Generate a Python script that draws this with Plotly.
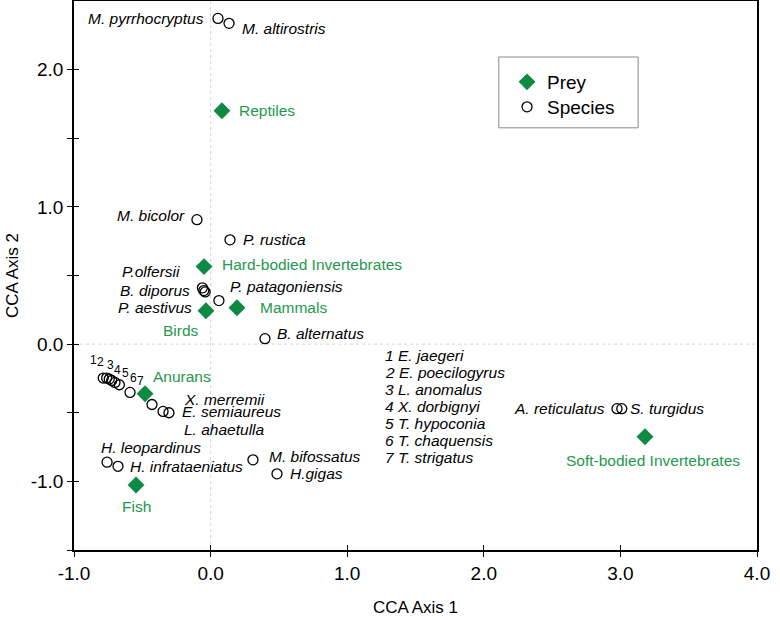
import plotly.graph_objects as go

# ---------------- data ----------------
prey_names = ["Reptiles", "Hard-bodied Invertebrates", "Mammals", "Birds",
              "Anurans", "Fish", "Soft-bodied Invertebrates"]
prey_x = [0.083, -0.048, 0.193, -0.034, -0.48, -0.546, 3.18]
prey_y = [1.70, 0.565, 0.265, 0.243, -0.362, -1.026, -0.675]

species_names = ["M. pyrrhocryptus", "M. altirostris", "M. bicolor", "P. rustica",
                 "P.olfersii", "B. diporus", "P. aestivus", "P. patagoniensis",
                 "B. alternatus", "1", "2", "3", "4", "5", "6", "7",
                 "X. merremii", "E. semiaureus", "L. ahaetulla",
                 "H. leopardinus", "H. infrataeniatus", "M. bifossatus", "H.gigas",
                 "A. reticulatus", "S. turgidus"]
species_x = [0.054, 0.135, -0.10, 0.142,
             -0.06, -0.05, -0.04, 0.061,
             0.398, -0.786, -0.761, -0.742, -0.724, -0.700, -0.668, -0.590,
             -0.429, -0.348, -0.305,
             -0.758, -0.678, 0.31, 0.486,
             2.975, 3.01]
species_y = [2.373, 2.337, 0.907, 0.76,
             0.41, 0.39, 0.38, 0.317,
             0.04, -0.247, -0.247, -0.255, -0.265, -0.279, -0.296, -0.352,
             -0.44, -0.49, -0.50,
             -0.86, -0.89, -0.843, -0.945,
             -0.47, -0.47]

numbered_key = ["1 E. jaegeri", "2 E. poecilogyrus", "3 L. anomalus", "4 X. dorbignyi",
                "5 T. hypoconia", "6 T. chaquensis", "7 T. strigatus"]

x_ticks = [-1, 0, 1, 2, 3, 4]
x_ticktext = ["-1.0", "0.0", "1.0", "2.0", "3.0", "4.0"]
y_ticks = [-1.5, -1, -0.5, 0, 0.5, 1, 1.5, 2]
y_ticktext = ["", "-1.0", "", "0.0", "", "1.0", "", "2.0"]

# ---------------- label placement (pixel offsets, styles) ----------------
GREEN_MARK = "#0f8a45"
GREEN_TEXT = "#24994d"
FONT = "Liberation Sans, Arial, sans-serif"
LBL = 15.5

# (xanchor, xshift, yshift)
prey_label_pos = [("left", 15, 0), ("left", 16, 2), ("left", 21, 0), ("center", -25, -20),
                  ("left", 6, 17), ("center", 0, -22), ("center", 8, -24)]
species_label_pos = [("right", -12, 0), ("left", 11, -5), ("right", -10, 4), ("left", 11, 0),
                     ("right", -20, 16), ("right", -12, 0), ("right", -11, -16), ("left", 9, 14),
                     ("left", 10, 5),
                     ("center", -10, 18), ("center", -6, 16), ("center", 1, 14), ("center", 6, 11),
                     ("center", 11, 9), ("center", 14, 7), ("center", 10, 11),
                     ("left", 30, 5), ("left", 17, 0), ("left", 13, -17),
                     ("left", -8, 15), ("left", 10, 0), ("left", 14, 3), ("left", 11, 0),
                     ("right", -10, 0), ("left", 6, 0)]

fig = go.Figure()

fig.add_trace(go.Scatter(
    x=prey_x, y=prey_y, mode="markers", name="Prey", legend="legend",
    marker=dict(symbol="diamond", size=13, color=GREEN_MARK, line=dict(width=0)),
))
fig.add_trace(go.Scatter(
    x=species_x, y=species_y, mode="markers", name="Species", legend="legend2",
    marker=dict(symbol="circle-open", size=10, color="black", line=dict(width=1.3, color="black")),
))
# helper trace for the overlay axes (inside tick marks)
fig.add_trace(go.Scatter(x=[None], y=[None], xaxis="x2", yaxis="y2",
                         showlegend=False, hoverinfo="skip"))

annotations = []
for name, x, y, (xa, dx, dy) in zip(prey_names, prey_x, prey_y, prey_label_pos):
    annotations.append(dict(x=x, y=y, text=name, showarrow=False, xanchor=xa, yanchor="middle",
                            xshift=dx, yshift=dy,
                            font=dict(family=FONT, size=LBL, color=GREEN_TEXT)))
for name, x, y, (xa, dx, dy) in zip(species_names, species_x, species_y, species_label_pos):
    is_num = name.isdigit()
    text = name if is_num else "<i>" + name + "</i>"
    annotations.append(dict(x=x, y=y, text=text, showarrow=False, xanchor=xa, yanchor="middle",
                            xshift=dx, yshift=dy,
                            font=dict(family=FONT, size=12 if is_num else LBL, color="black")))
for i, line in enumerate(numbered_key):
    annotations.append(dict(x=1.262, y=-0.085, text="<i>" + line + "</i>", showarrow=False,
                            xanchor="left", yanchor="middle", yshift=-17 * i,
                            font=dict(family=FONT, size=LBL, color="black")))

legend_style = dict(xanchor="left", yanchor="middle", borderwidth=0, bgcolor="rgba(0,0,0,0)",
                    font=dict(family=FONT, size=19, color="black"), itemwidth=30)

fig.update_layout(
    width=780, height=620,
    margin=dict(l=74, r=23, t=1, b=70, autoexpand=False),
    paper_bgcolor="white", plot_bgcolor="white",
    font=dict(family=FONT, color="black"),
    showlegend=True,
    legend=dict(x=0.634, y=(549 - 81) / 549, **legend_style),
    legend2=dict(x=0.634, y=(549 - 106) / 549, **legend_style),
    annotations=annotations,
    shapes=[
        dict(type="line", xref="x", yref="paper", x0=0, x1=0, y0=0, y1=1,
             line=dict(color="#d4d4d4", width=1, dash="dot"), layer="below"),
        dict(type="line", xref="paper", yref="y", x0=0, x1=1, y0=0, y1=0,
             line=dict(color="#d4d4d4", width=1, dash="dot"), layer="below"),
        # legend frame
        dict(type="rect", xref="paper", yref="paper", x0=0.622, x1=0.826, y0=0.769, y1=0.898,
             line=dict(color="#8a8a8a", width=1), fillcolor="rgba(0,0,0,0)", layer="below"),
    ],
    xaxis=dict(range=[-1, 4], tickvals=x_ticks, ticktext=x_ticktext, automargin=False,
               ticks="outside", ticklen=5, tickwidth=1.2, tickcolor="black",
               showline=True, linecolor="black", linewidth=1.5, mirror=True,
               showgrid=False, zeroline=False,
               tickfont=dict(family=FONT, size=19),
               title=dict(text="CCA Axis 1", font=dict(family=FONT, size=17), standoff=19)),
    yaxis=dict(range=[-1.5, 2.5], tickvals=y_ticks, ticktext=y_ticktext, automargin=False,
               ticks="outside", ticklen=5, tickwidth=1.2, tickcolor="black",
               showline=True, linecolor="black", linewidth=1.5, mirror=True,
               showgrid=False, zeroline=False,
               tickfont=dict(family=FONT, size=19),
               title=dict(text="CCA Axis 2", font=dict(family=FONT, size=17), standoff=8)),
    xaxis2=dict(overlaying="x", anchor="y", matches="x", range=[-1, 4], tickvals=x_ticks,
                ticks="inside", ticklen=5, tickwidth=1.2, tickcolor="black", automargin=False,
                showticklabels=False, showline=False, showgrid=False, zeroline=False),
    yaxis2=dict(overlaying="y", anchor="x", matches="y", range=[-1.5, 2.5], tickvals=y_ticks,
                ticks="inside", ticklen=5, tickwidth=1.2, tickcolor="black", automargin=False,
                showticklabels=False, showline=False, showgrid=False, zeroline=False),
)

fig.write_html("out.html", config={"displayModeBar": False},
               post_script="document.body.style.margin='0';")
